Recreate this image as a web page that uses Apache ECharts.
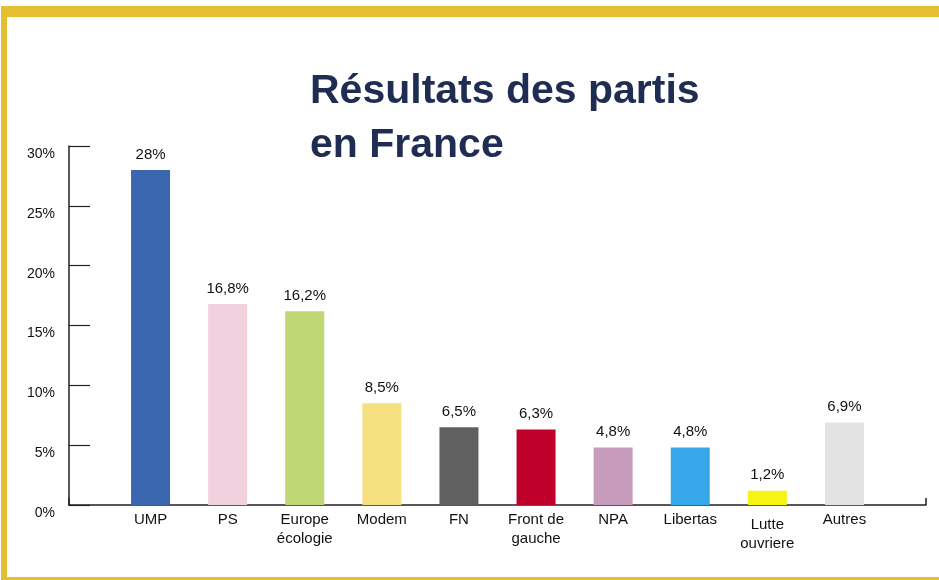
<!DOCTYPE html>
<html>
<head>
<meta charset="utf-8">
<script src="https://cdn.jsdelivr.net/npm/echarts@6/dist/echarts.min.js"></script>
<style>
  html, body { margin: 0; padding: 0; background: #fff; }
  #main { width: 939px; height: 580px; }
</style>
</head>
<body>
<div id="main"></div>
<script>
// Résultats des partis en France (européennes)
var partis = ['UMP', 'PS', 'Europe\nécologie', 'Modem', 'FN', 'Front de\ngauche', 'NPA', 'Libertas', 'Lutte\nouvriere', 'Autres'];
var scores = [28, 16.8, 16.2, 8.5, 6.5, 6.3, 4.8, 4.8, 1.2, 6.9];
var couleurs = ['#3A67B0', '#F0D1DD', '#BFD774', '#F4E07E', '#606060', '#C0002A', '#C79BBB', '#36A7E8', '#F7F313', '#E3E3E3'];
var pourcentTicks = [0, 5, 10, 15, 20, 25, 30];

var myChart = echarts.init(document.getElementById('main'));

var jaune = '#E6BF30';
var texte = '#111111';

var option = {
    animation: false,
    title: {
        text: 'Résultats des partis\nen France',
        left: 310,
        top: 65,
        padding: 0,
        textStyle: {
            fontFamily: 'Liberation Sans',
            fontWeight: 700,
            fontSize: 41,
            lineHeight: 54,
            color: '#1F2D52'
        }
    },
    graphic: [
        { type: 'rect', shape: { x: 1, y: 6, width: 938, height: 11 }, style: { fill: jaune } },
        { type: 'rect', shape: { x: 1, y: 6, width: 6, height: 574 }, style: { fill: jaune } },
        { type: 'rect', shape: { x: 1, y: 577, width: 938, height: 3 }, style: { fill: jaune } }
    ],
    grid: [
        // barres
        { left: 112, right: 56, top: 146, bottom: 75 },
        // axes
        { left: 69, right: 13, top: 146, bottom: 75 }
    ],
    xAxis: [
        {
            type: 'category',
            gridIndex: 0,
            data: partis.map(function (p, i) {
                if (i === 8) return { value: p, textStyle: { padding: [5, 0, 0, 0] } };
                return p;
            }),
            axisLine: { show: false },
            axisTick: { show: false },
            axisLabel: {
                interval: 0,
                margin: 5,
                fontFamily: 'Liberation Sans',
                fontSize: 15,
                lineHeight: 19,
                color: texte,
                verticalAlign: 'top'
            }
        },
        {
            type: 'value',
            gridIndex: 1,
            min: 0,
            max: 1,
            interval: 1,
            axisLine: { show: true, lineStyle: { color: '#222', width: 1.5 } },
            axisTick: { show: true, inside: true, length: 7, lineStyle: { color: '#222', width: 1.5 } },
            axisLabel: { show: false },
            splitLine: { show: false }
        }
    ],
    yAxis: [
        {
            type: 'value',
            gridIndex: 0,
            min: 0,
            max: 30,
            interval: 5,
            show: false
        },
        {
            type: 'value',
            gridIndex: 1,
            min: pourcentTicks[0],
            max: pourcentTicks[pourcentTicks.length - 1],
            interval: 5,
            axisLine: { show: true, lineStyle: { color: '#222', width: 1.5 } },
            axisTick: { show: true, inside: true, length: 21, lineStyle: { color: '#222', width: 1.2 } },
            axisLabel: {
                margin: 14,
                fontFamily: 'Liberation Sans',
                fontSize: 14,
                color: texte,
                verticalAlign: 'top',
                padding: [1, 0, 0, 0],
                formatter: function (v) { return v + '%'; }
            },
            splitLine: { show: false }
        }
    ],
    series: [{
        type: 'bar',
        xAxisIndex: 0,
        yAxisIndex: 0,
        barWidth: 39,
        data: scores.map(function (v, i) {
            return { value: v, itemStyle: { color: couleurs[i] } };
        }),
        label: {
            show: true,
            position: 'top',
            distance: 8,
            fontFamily: 'Liberation Sans',
            fontSize: 15,
            color: texte,
            formatter: function (p) {
                return String(p.value).replace('.', ',') + '%';
            }
        }
    }]
};

myChart.setOption(option);
</script>
</body>
</html>
